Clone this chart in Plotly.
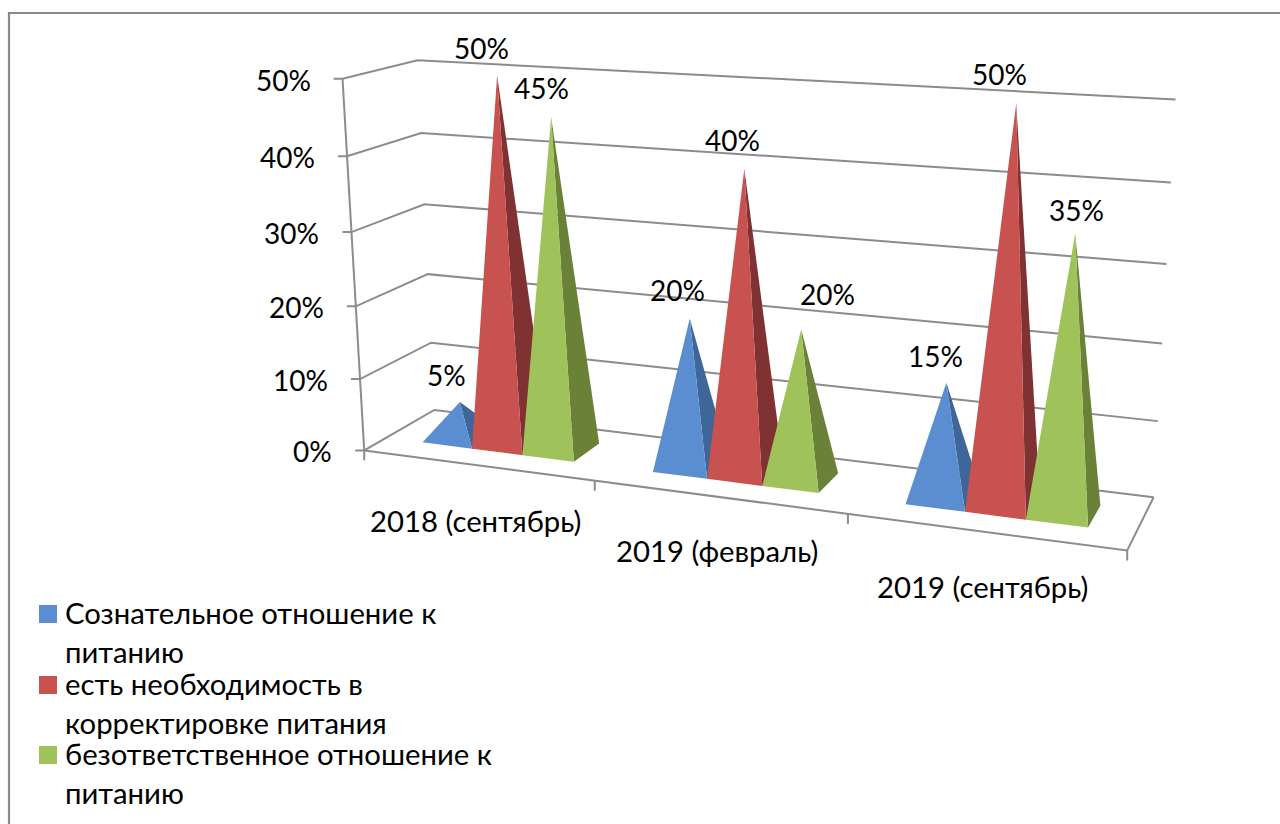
import numpy as np
import plotly.graph_objects as go

CATEGORIES = ["2018 (сентябрь)", "2019 (февраль)", "2019 (сентябрь)"]
SERIES_NAMES = ["Сознательное отношение к<br>питанию",
                "есть необходимость в<br>корректировке питания",
                "безответственное отношение к<br>питанию"]
CONSCIOUS = [5, 20, 15]
NEEDS_CORRECTION = [50, 40, 50]
IRRESPONSIBLE = [45, 20, 35]
Y_TICKS = [0, 10, 20, 30, 40, 50]

SERIES = [CONSCIOUS, NEEDS_CORRECTION, IRRESPONSIBLE]
FRONT = ["#5A8ED0", "#C8524F", "#A0C25A"]
SIDE = ["#3E6699", "#7F3231", "#6A8238"]
GRID = "#8C8C8C"
FONT = "Lato, Carlito, 'Open Sans', sans-serif"
FS_VALUE = 28
FS_TEXT = 29.3

# Camera calibration: chart box corners (category, depth, value) -> pixels
CAL_V = Y_TICKS
CAL_FL = [(364, 451), (361, 379), (356, 306), (352, 232), (347, 156), (342, 79)]
CAL_BL = [(434, 410), (431, 343), (428, 274), (425, 204), (421, 133), (417, 60)]
CAL_BR = [(1153.5, 497), (1158, 421), (1162, 343), (1166.5, 264), (1171, 183), (1175.5, 100)]
cal = []
for v, a, b, c in zip(CAL_V, CAL_FL, CAL_BL, CAL_BR):
    cal += [((0, 0, v), a), ((0, 1, v), b), ((3, 1, v), c)]
cal += [((3, 0, 0), (1128, 550)), ((1, 0, 0), (594, 481)), ((2, 0, 0), (847, 514))]
A, B = [], []
for (x, d, v), (u, w) in cal:
    A.append([x, d, v, 1, 0, 0, 0, 0, -u * x, -u * d, -u * v]); B.append(u)
    A.append([0, 0, 0, 0, x, d, v, 1, -w * x, -w * d, -w * v]); B.append(w)
P = np.append(np.linalg.lstsq(np.array(A, float), np.array(B, float), rcond=None)[0], 1).reshape(3, 4)


def proj(x, d, v):
    q = P @ np.array([x, d, v, 1.0])
    return float(q[0] / q[2]), float(q[1] / q[2])


GAP = 1 / 6
BAR = (1 - 2 * GAP) / 3
D0, D1 = 0.30, 0.72
# label offsets from each pyramid apex, by series then category
NUDGE = [[(-13, -27), (-12, -28), (-11, -27)],
         [(-16, -27), (-12, -29), (-17, -29)],
         [(-10, -29), (26, -35), (1, -23)]]

fig = go.Figure()


def line(pts, width=2, color=GRID, name=""):
    fig.add_trace(go.Scatter(x=[p[0] for p in pts], y=[p[1] for p in pts], mode="lines",
                             line=dict(color=color, width=width), showlegend=False,
                             hoverinfo="skip", name=name))


# frame of the picture
line([(9, 824), (9, 13), (1280, 13)], width=2.2, color="#8A8A8A", name="frame")

# walls and floor
for v in Y_TICKS:
    f = proj(0, 0, v)
    line([(f[0] - 9, f[1]), f, proj(0, 1, v), proj(3, 1, v)], name=f"grid {v}")
line([proj(0, 0, 0), proj(0, 0, 50)], name="value axis")
line([proj(0, 0, 0), proj(3, 0, 0), proj(3, 1, 0)], name="floor")
for i in range(4):
    f = proj(i, 0, 0)
    line([f, (f[0], f[1] + 10)], name=f"tick {i}")

annotations = []


def text(x, y, s, anchor="center", size=FS_VALUE):
    annotations.append(dict(x=x, y=y, text=s, showarrow=False, xref="x", yref="y",
                            xanchor=anchor, yanchor="middle", align="left",
                            font=dict(family=FONT, size=size, color="#000000")))


# pyramids, drawn from their values
for c in range(len(CATEGORIES)):
    for s, vals in enumerate(SERIES):
        x0 = c + GAP + s * BAR
        x1 = x0 + BAR
        v = vals[c]
        apex = proj((x0 + x1) / 2, (D0 + D1) / 2, v)
        fl, fr, br = proj(x0, D0, 0), proj(x1, D0, 0), proj(x1, D1, 0)
        for tri, col, label in (((fr, br, apex), SIDE[s], "side"), ((fl, fr, apex), FRONT[s], "front")):
            pts = list(tri) + [tri[0]]
            fig.add_trace(go.Scatter(x=[p[0] for p in pts], y=[p[1] for p in pts], mode="lines",
                                     fill="toself", fillcolor=col, line=dict(width=0, color=col),
                                     showlegend=False, hoverinfo="skip",
                                     name=f"{SERIES_NAMES[s]} {CATEGORIES[c]} {label}"))
        n = NUDGE[s][c]
        text(apex[0] + n[0], apex[1] + n[1], f"{v}%")

# value axis labels
for v in Y_TICKS:
    f = proj(0, 0, v)
    text(f[0] - 30, f[1] + 1, f"{v}%", anchor="right")

# category labels
CAT_OFFSET = [(-1, 55), (-1, 54), (-2, 55)]
for i, name in enumerate(CATEGORIES):
    m = proj(i + 0.5, 0, 0)
    o = CAT_OFFSET[i]
    text(m[0] + o[0], m[1] + o[1], name, size=FS_TEXT)

# legend
LEG_Y = [614, 685, 755]
for s, name in enumerate(SERIES_NAMES):
    fig.add_trace(go.Scatter(x=[48], y=[LEG_Y[s]], mode="markers",
                             marker=dict(symbol="square", size=18, color=FRONT[s], line=dict(width=0)),
                             showlegend=False, hoverinfo="skip", name=name.replace("<br>", " ")))
    a, b = name.split("<br>")
    text(63, LEG_Y[s] - 2, a, anchor="left", size=FS_TEXT)
    text(63, LEG_Y[s] + 37, b, anchor="left", size=FS_TEXT)

fig.update_layout(width=1280, height=824, autosize=False, margin=dict(l=0, r=0, t=0, b=0),
                  paper_bgcolor="white", plot_bgcolor="white", showlegend=False,
                  annotations=annotations,
                  xaxis=dict(range=[0, 1280], visible=False, fixedrange=True),
                  yaxis=dict(range=[824, 0], visible=False, fixedrange=True))
fig.write_html("out.html", config=dict(displayModeBar=False),
               post_script="document.body.style.margin='0';document.body.style.overflow='hidden';")
